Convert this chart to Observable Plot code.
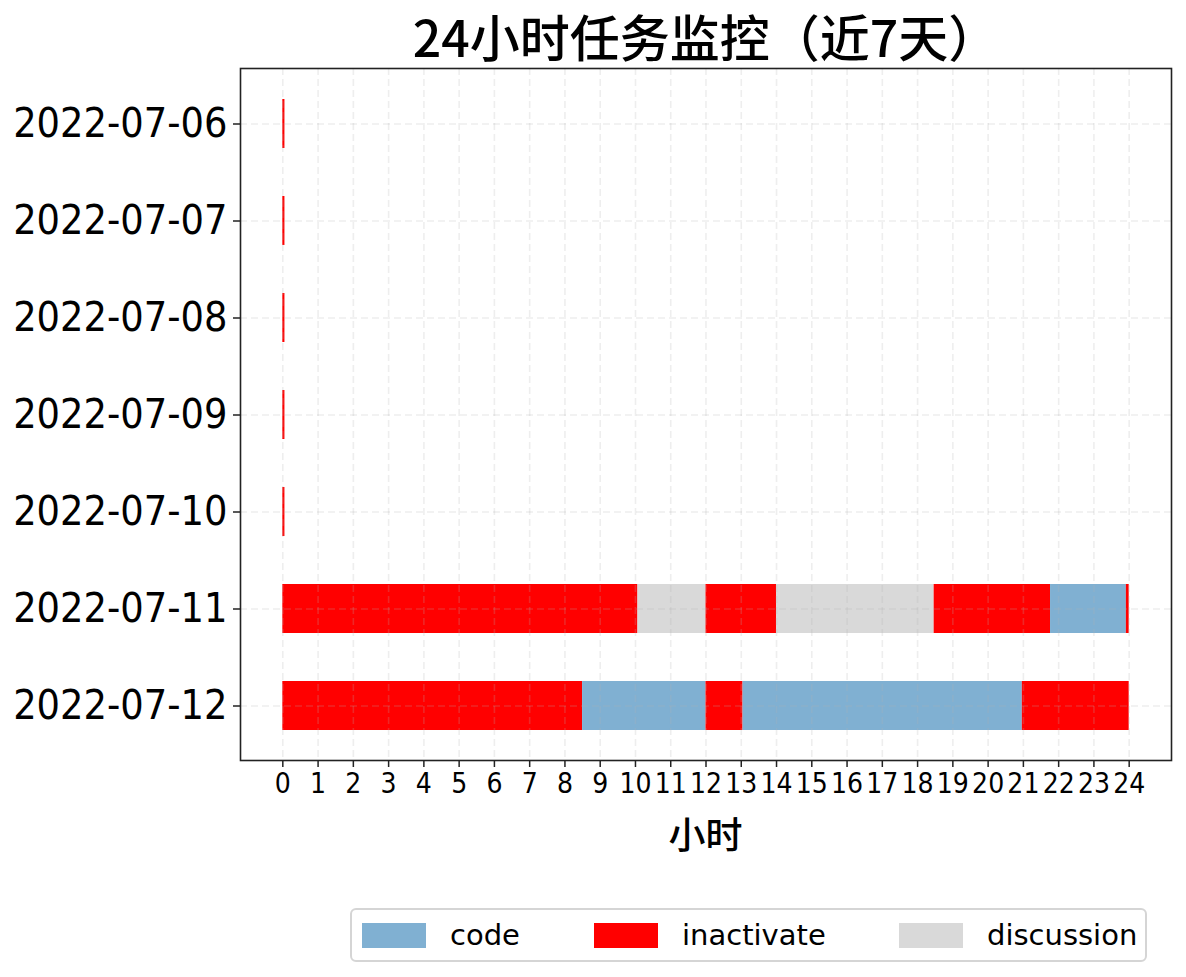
<!DOCTYPE html>
<html>
<head>
<meta charset="utf-8">
<script src="https://cdn.jsdelivr.net/npm/d3@7"></script>
<script src="https://cdn.jsdelivr.net/npm/@observablehq/plot@0.6"></script>
<style>
  html, body { margin: 0; padding: 0; background: #fff; }
  body { width: 1186px; height: 977px; position: relative; overflow: hidden;
         font-family: "DejaVu Sans Condensed", "Liberation Sans Narrow", "DejaVu Sans", sans-serif; }
  #title { position: absolute; left: 240px; width: 931px; top: 2px; text-align: center;
           font-family: "Noto Sans CJK SC", sans-serif; font-size: 50px; line-height: 66px; color: #000; font-weight: 500; }
  #chart { position: absolute; left: 0; top: 60px; }
  #xlabel { position: absolute; left: 240px; width: 931px; top: 808px; text-align: center;
            font-family: "Noto Sans CJK SC", sans-serif; font-size: 37px; line-height: 50px; font-weight: 500; }
  #legend { position: absolute; left: 350px; top: 908px; width: 793px; height: 50px;
            border: 2px solid #d5d5d5; border-radius: 6px; display: flex; align-items: center;
            font-family: "DejaVu Sans", sans-serif; font-size: 29px; color: #000; }
  .item { display: flex; align-items: center; position: absolute; }
  .sw { width: 64px; height: 25px; margin-right: 24px; }
</style>
</head>
<body>
<div id="title">24小时任务监控（近7天）</div>
<div id="chart"></div>
<div id="xlabel">小时</div>
<div id="legend"></div>
<script>
// ---- data ----
const dates = ["2022-07-06", "2022-07-07", "2022-07-08", "2022-07-09", "2022-07-10", "2022-07-11", "2022-07-12"];
const categories = ["code", "inactivate", "discussion"];
const colors = ["#80b0d2", "#ff0000", "#d9d9d9"];
const hourTicks = [0,1,2,3,4,5,6,7,8,9,10,11,12,13,14,15,16,17,18,19,20,21,22,23,24];

// segments in time order for each day: date, category, duration (hours)
const segDate = ["2022-07-06", "2022-07-07", "2022-07-08", "2022-07-09", "2022-07-10",
  "2022-07-11", "2022-07-11", "2022-07-11", "2022-07-11", "2022-07-11", "2022-07-11", "2022-07-11",
  "2022-07-12", "2022-07-12", "2022-07-12", "2022-07-12", "2022-07-12"];
const segType = ["inactivate", "inactivate", "inactivate", "inactivate", "inactivate",
  "inactivate", "discussion", "inactivate", "discussion", "inactivate", "code", "inactivate",
  "inactivate", "code", "inactivate", "code", "inactivate"];
const segHours = [0.06, 0.06, 0.06, 0.06, 0.06,
  10.07, 1.93, 2.0, 4.47, 3.3, 2.15, 0.08,
  8.5, 3.5, 1.05, 7.92, 3.03];

// build table (cumulative start/end per day)
const acc = {};
const rows = segDate.map((d, i) => {
  const start = acc[d] || 0;
  const end = start + segHours[i];
  acc[d] = end;
  return {date: d, type: segType[i], x1: start, x2: end};
});

const W = 1186, H = 810;
const plot = Plot.plot({
  width: W,
  height: H,
  marginTop: 8,
  marginBottom: 110,
  marginLeft: 240,
  marginRight: 15,
  style: {background: "transparent", fontFamily: "\"DejaVu Sans Condensed\", \"Liberation Sans Narrow\", \"DejaVu Sans\", sans-serif"},
  x: {domain: [-1.2, 25.2]},
  y: {type: "band", domain: dates, paddingInner: 0.5, paddingOuter: 0.31},
  color: {domain: categories, range: colors},
  marks: [
    Plot.barX(rows, {x1: "x1", x2: "x2", y: "date", fill: "type"}),
    Plot.gridX(hourTicks, {stroke: "#b0b0b0", strokeOpacity: 0.22, strokeDasharray: "7,4", strokeWidth: 1.6}),
    Plot.gridY(dates, {stroke: "#b0b0b0", strokeOpacity: 0.22, strokeDasharray: "7,4", strokeWidth: 1.6}),
    Plot.axisX(hourTicks, {tickSize: 7, tickPadding: 6, fontSize: 28, label: null, stroke: "#222", strokeWidth: 1.5, fill: "#000"}),
    Plot.axisY(dates, {tickSize: 7, tickPadding: 6, fontSize: 41, label: null, stroke: "#222", strokeWidth: 1.5, fill: "#000"}),
    Plot.frame({stroke: "#222", strokeWidth: 1.6})
  ]
});
document.getElementById("chart").appendChild(plot);

// legend
const leg = document.getElementById("legend");
const lx = [10, 242, 547];
categories.forEach((c, i) => {
  const it = document.createElement("div");
  it.className = "item";
  it.style.left = lx[i] + "px";
  const sw = document.createElement("div");
  sw.className = "sw";
  sw.style.background = colors[i];
  const t = document.createElement("span");
  t.textContent = c;
  it.appendChild(sw); it.appendChild(t);
  leg.appendChild(it);
});
</script>
</body>
</html>
